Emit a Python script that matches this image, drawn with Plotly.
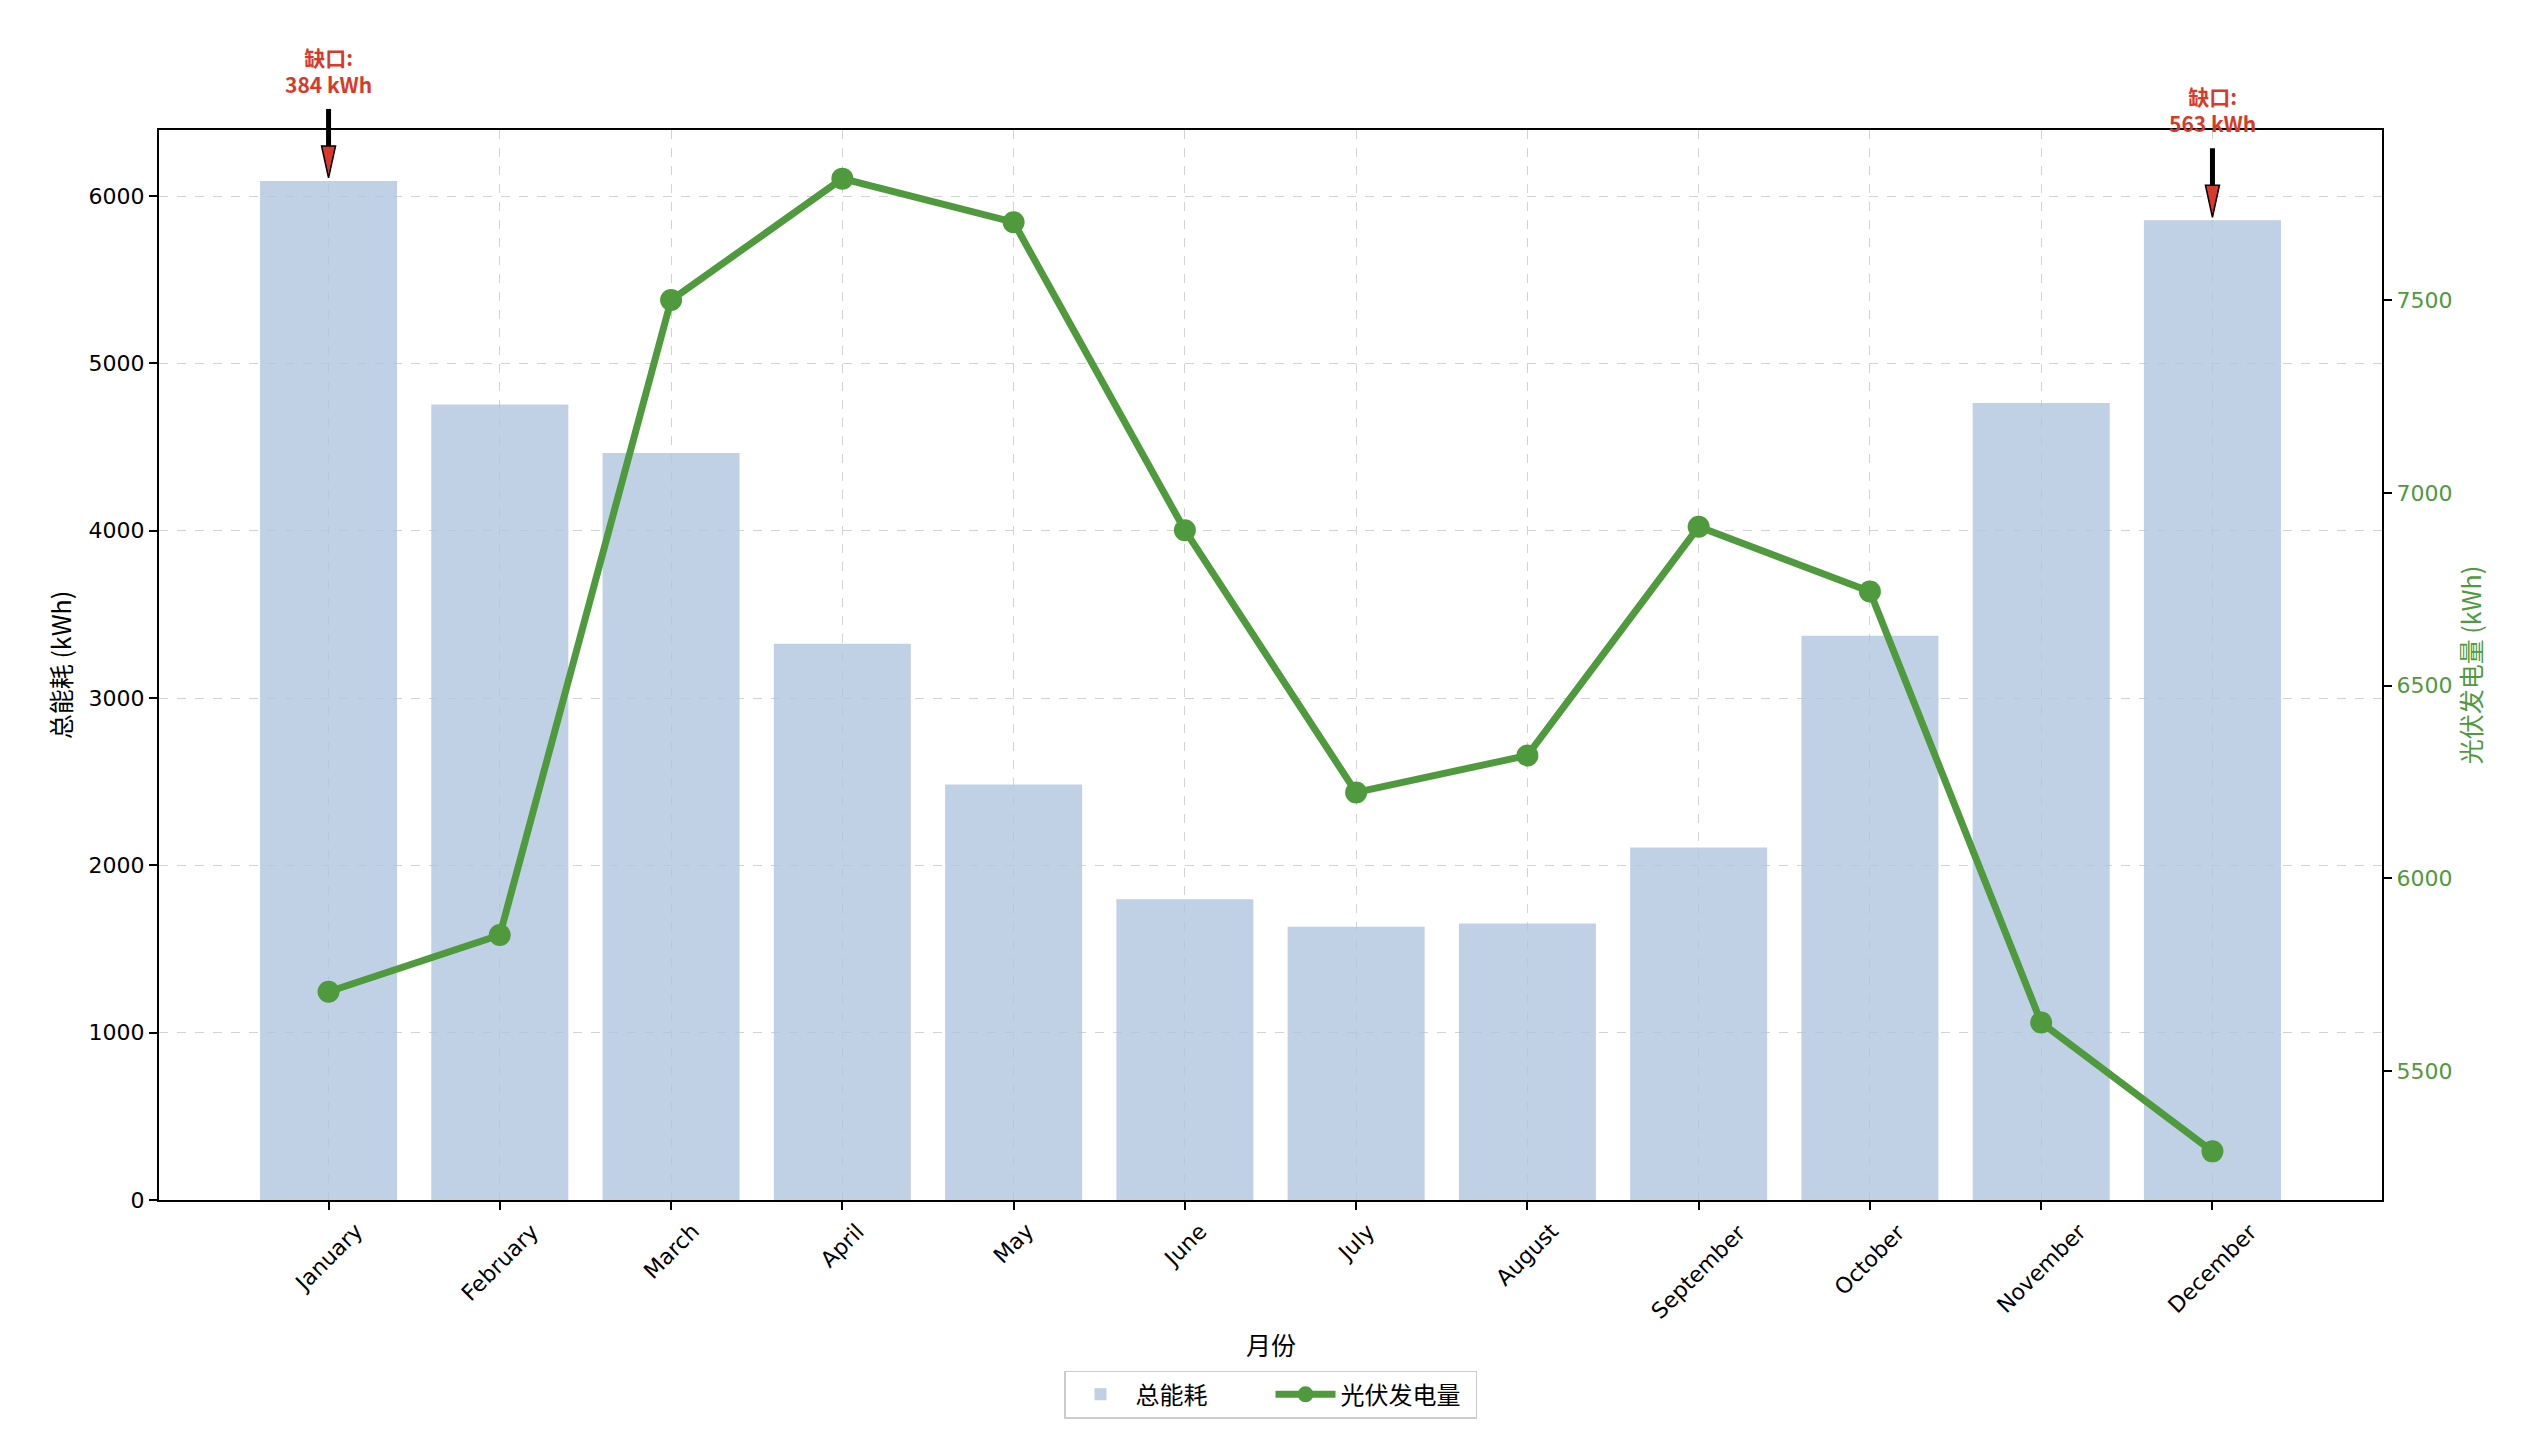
import plotly.graph_objects as go

months = ["January", "February", "March", "April", "May", "June",
          "July", "August", "September", "October", "November", "December"]
consumption = [6090, 4754, 4464, 3324, 2483, 1797, 1633, 1652, 2106, 3372, 4763, 5855]
pv_generation = [5706, 5853, 7500, 7815, 7702, 6903, 6223, 6319, 6912, 6744, 5626, 5292]
gap_months = ["January", "December"]

FONT = "DejaVu Sans, Noto Sans CJK SC, sans-serif"
CJK = "Noto Sans CJK SC, DejaVu Sans, sans-serif"
GREEN = "#4f9a3d"
RED = "#d73a2b"
BAR = "rgba(176,196,222,0.8)"
Y_MAX = max(consumption) * 1.05
PV_LO = min(pv_generation) - 0.05 * (max(pv_generation) - min(pv_generation))
PV_HI = max(pv_generation) + 0.05 * (max(pv_generation) - min(pv_generation))

fig = go.Figure()
fig.add_trace(go.Bar(x=months, y=consumption, name="总能耗", marker_color=BAR,
                     marker_line_width=0, yaxis="y"))
fig.add_trace(go.Scatter(x=months, y=pv_generation, name="光伏发电量", mode="lines+markers",
                         line=dict(color=GREEN, width=7), marker=dict(size=22, color=GREEN),
                         yaxis="y2"))

ann = []
shapes = []
for m in gap_months:
    i = months.index(m)
    c = consumption[i]
    g = c - pv_generation[i]
    # shaft (pixel-sized, anchored at bar top; paper y so it is not clipped)
    shapes.append(dict(type="path", xref="x", yref="paper", xsizemode="pixel", ysizemode="pixel",
                       xanchor=i, yanchor=c / Y_MAX, path="M0,30 L0,72",
                       line=dict(color="black", width=5)))
    # red head
    shapes.append(dict(type="path", xref="x", yref="paper", xsizemode="pixel", ysizemode="pixel",
                       xanchor=i, yanchor=c / Y_MAX, path="M-7,35 L7,35 L0,3 Z",
                       fillcolor=RED, line=dict(color="black", width=1.5)))
    ann.append(dict(x=m, y=c, xref="x", yref="y", yanchor="bottom", xanchor="center",
                    yshift=80, text=f"<b>缺口:<br>{g} kWh</b>", showarrow=False,
                    font=dict(family=CJK, size=21, color=RED)))

# rotated x tick labels (centered under ticks)
for m in months:
    ann.append(dict(x=m, y=0, xref="x", yref="paper", yanchor="top", xanchor="center",
                    yshift=-16, text=m, textangle=-45, showarrow=False,
                    font=dict(family=FONT, size=22, color="black")))

ann.append(dict(x=0.5, y=-0.1346, xref="paper", yref="paper", xanchor="center", yanchor="middle",
                text="月份", showarrow=False, font=dict(family=CJK, size=25, color="black")))

fig.update_layout(
    width=2539, height=1436,
    margin=dict(l=159, r=157, t=130, b=236),
    paper_bgcolor="white", plot_bgcolor="white",
    font=dict(family=FONT, size=22, color="black"),
    bargap=0.2,
    showlegend=True,
    legend=dict(orientation="h", x=0.5, xanchor="center", y=-0.182, yanchor="middle",
                bordercolor="#cccccc", borderwidth=1.5, bgcolor="white",
                font=dict(family=CJK, size=24), itemwidth=60, entrywidth=130),
    annotations=ann,
    shapes=shapes,
    xaxis=dict(type="category", range=[-0.99, 11.99], showticklabels=False,
               ticks="outside", ticklen=8, tickwidth=1.5, tickcolor="black",
               showline=True, linecolor="black", linewidth=2, mirror=True,
               showgrid=True, gridcolor="#d3d3d3", griddash="dash", gridwidth=1.2,
               zeroline=False),
    yaxis=dict(range=[0, Y_MAX], dtick=1000, tick0=0,
               ticks="outside", ticklen=8, tickwidth=1.5, tickcolor="black",
               showline=True, linecolor="black", linewidth=2, mirror=True,
               showgrid=True, gridcolor="#d3d3d3", griddash="dash", gridwidth=1.2,
               zeroline=False,
               title=dict(text="总能耗 (kWh)", font=dict(family=CJK, size=25), standoff=10),
               tickfont=dict(family=FONT, size=22)),
    yaxis2=dict(overlaying="y", side="right", range=[PV_LO, PV_HI],
                tickvals=[5500, 6000, 6500, 7000, 7500],
                ticks="outside", ticklen=8, tickwidth=1.5, tickcolor="black",
                showline=True, linecolor="black", linewidth=2,
                showgrid=False, zeroline=False,
                tickfont=dict(family=FONT, size=22, color=GREEN),
                title=dict(text="光伏发电量 (kWh)", font=dict(family=CJK, size=25, color=GREEN),
                           standoff=10)),
)

fig.write_html("out.html")
